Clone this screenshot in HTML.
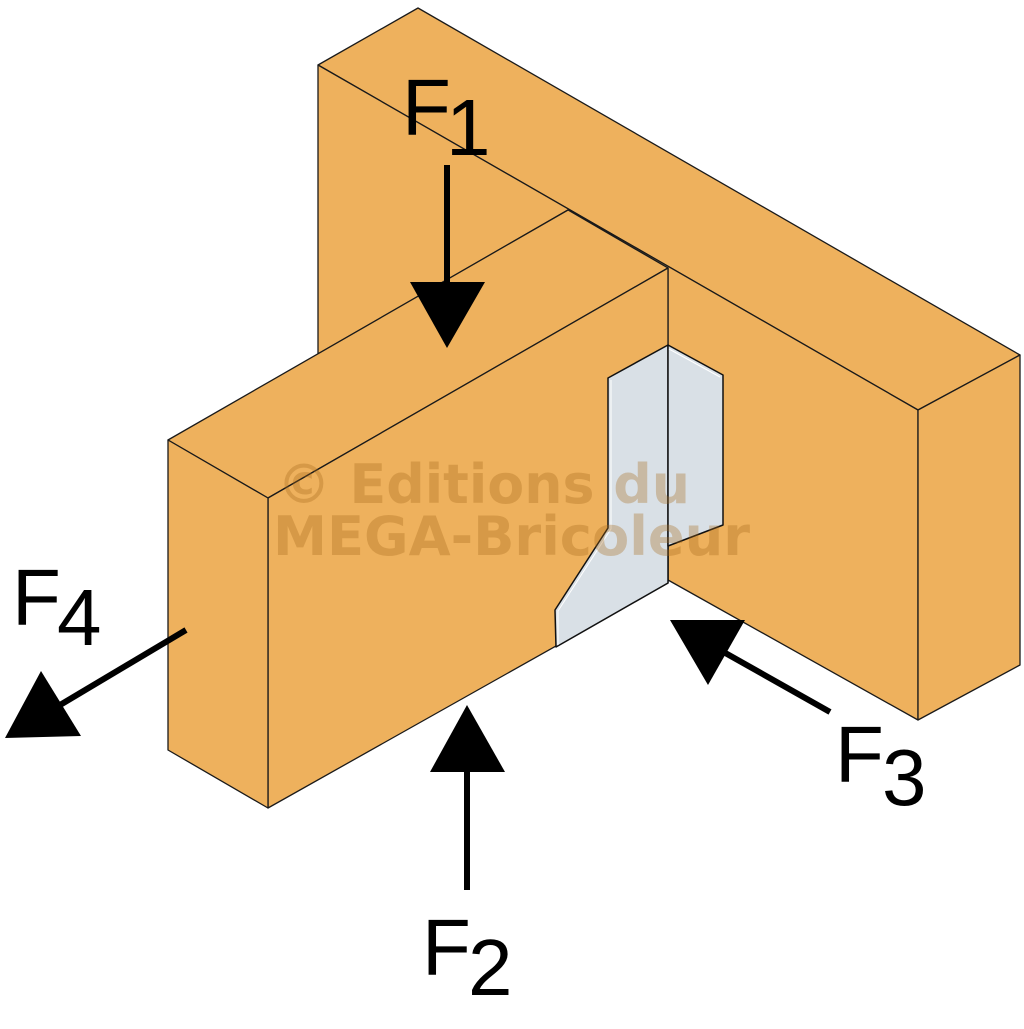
<!DOCTYPE html>
<html><head><meta charset="utf-8"><style>html,body{margin:0;padding:0;background:#fff}</style></head>
<body>
<svg width="1024" height="1024" viewBox="0 0 1024 1024" xmlns="http://www.w3.org/2000/svg">
<g stroke="#1a1a1a" stroke-width="1.3" stroke-linejoin="round" fill="#eeb15d">
<polygon points="318,65 418,8 1020,355 918,410"/>
<polygon points="318,65 918,410 918,720 668,580 668,268 568,210 318,354"/>
<polygon points="918,410 1020,355 1020,665 918,720"/>
<polygon points="168,440 568,210 668,268 268,498"/>
<polygon points="268,498 668,268 668,583 268,808"/>
<polygon points="168,440 268,498 268,808 168,750"/>
</g>
<g stroke="#111" stroke-width="1.5" fill="#d9e0e6" stroke-linejoin="round">
<polygon points="668,345 608,378 608,528 555,610 556,647 668,583"/>
<polygon points="668,345 723,375 723,525 668,546"/>
</g>
<g fill="none" stroke="#fff" stroke-width="1"><polyline points="611,380 611,529 558,611 558,645"/><polyline points="669,349 720,377"/></g>
<g font-family="DejaVu Sans, sans-serif" font-weight="bold" font-size="54" fill="#a86a1c" fill-opacity="0.33">
<text x="277" y="503" textLength="413" lengthAdjust="spacingAndGlyphs">© Editions du</text>
<text x="273" y="555" textLength="477" lengthAdjust="spacingAndGlyphs">MEGA-Bricoleur</text>
</g>
<g stroke="#000" stroke-width="6" fill="none">
<line x1="447" y1="165" x2="447" y2="290"/>
<line x1="467" y1="765" x2="467" y2="890"/>
<line x1="186" y1="630" x2="55" y2="708"/>
<line x1="830" y1="712" x2="720" y2="650"/>
</g>
<g fill="#000">
<polygon points="410,282 485,282 447,348"/>
<polygon points="430,772 505,772 467,705"/>
<polygon points="5,738 41,671 81,736"/>
<polygon points="670,620 745,620 708,685"/>
</g>
<g font-family="Liberation Sans, sans-serif" font-size="80" fill="#000">
<text x="402" y="135">F</text><text x="446" y="155">1</text>
<text x="422" y="975">F</text><text x="468" y="995">2</text>
<text x="835" y="782">F</text><text x="882" y="805">3</text>
<text x="12" y="625">F</text><text x="57" y="645">4</text>
</g>
</svg>
</body></html>
